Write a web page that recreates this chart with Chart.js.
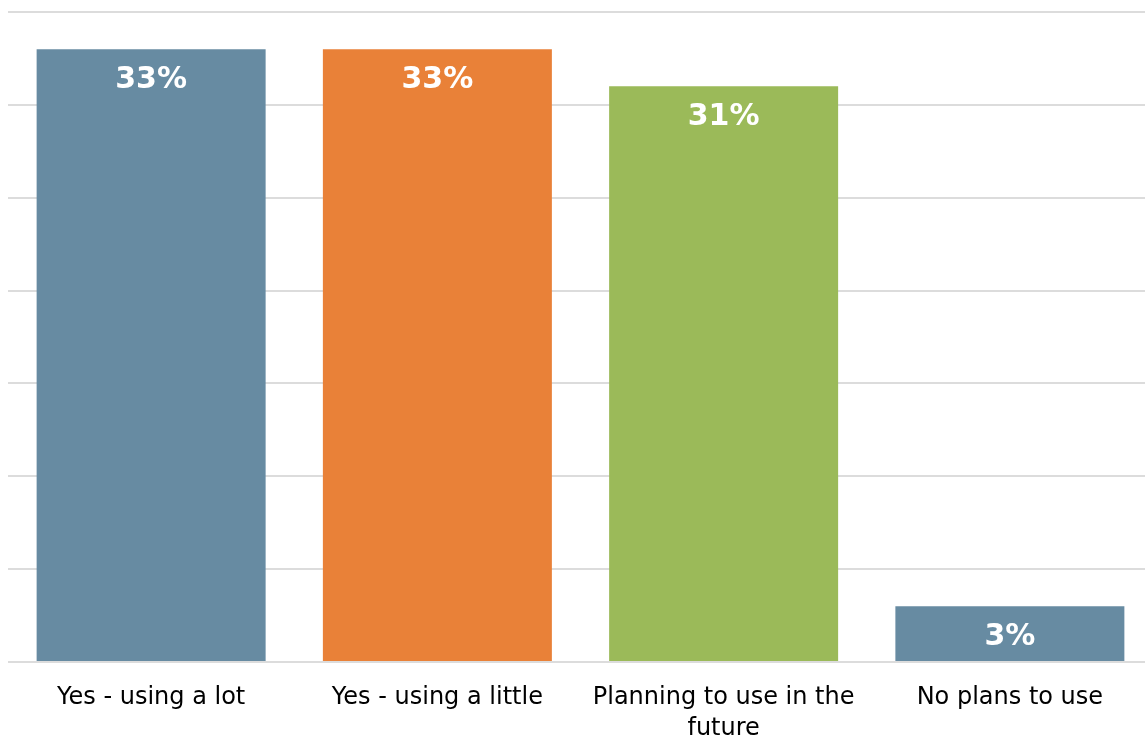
<!DOCTYPE html>
<html>
<head>
<meta charset="utf-8">
<script src="https://cdn.jsdelivr.net/npm/chart.js@4.4.1/dist/chart.umd.min.js"></script>
<style>
  html, body { margin: 0; padding: 0; background: #fff; overflow: hidden; }
  #wrap { width: 1153px; height: 740px; }
</style>
</head>
<body>
<div id="wrap"><canvas id="usageChart" width="1153" height="740"></canvas></div>
<script>
var categories = [
  "Yes - using a lot",
  "Yes - using a little",
  ["Planning to use in the", "future"],
  "No plans to use"
];
var shares = [33, 33, 31, 3];
var barColors = ["#678ba2", "#e98138", "#9bba59", "#678ba2"];

// white percentage text just below the top of each bar
var valueLabels = {
  id: 'valueLabels',
  afterDatasetsDraw: function (chart) {
    var ctx = chart.ctx;
    var meta = chart.getDatasetMeta(0);
    ctx.save();
    ctx.fillStyle = '#ffffff';
    ctx.font = 'bold 30px "DejaVu Sans"';
    ctx.textAlign = 'center';
    ctx.textBaseline = 'middle';
    meta.data.forEach(function (bar, i) {
      ctx.fillText(shares[i] + '%', bar.x, bar.y + 31);
    });
    ctx.restore();
  }
};

var usageCanvas = document.getElementById("usageChart");
var usageChart = new Chart(usageCanvas, {
  type: 'bar',
  data: {
    labels: categories,
    datasets: [{
      data: shares,
      backgroundColor: barColors,
      borderWidth: 0,
      barPercentage: 0.8,
      categoryPercentage: 1.0
    }]
  },
  options: {
    responsive: false,
    animation: false,
    devicePixelRatio: 1,
    layout: { padding: { left: 8, right: 0, top: 12, bottom: 0 } },
    plugins: {
      legend: { display: false },
      tooltip: { enabled: false }
    },
    scales: {
      x: {
        grid: { display: false },
        border: { display: false },
        afterFit: function (scale) { scale.height = 78; },
        ticks: {
          color: '#000000',
          padding: 12,
          maxRotation: 0,
          autoSkip: false,
          font: { family: '"DejaVu Sans"', size: 24, lineHeight: 1.29 }
        }
      },
      y: {
        min: 0,
        max: 35,
        border: { display: false },
        grid: { color: '#dcdcdc', lineWidth: 2, drawTicks: false },
        ticks: { display: false, stepSize: 5 }
      }
    }
  },
  plugins: [valueLabels]
});
</script>
</body>
</html>
